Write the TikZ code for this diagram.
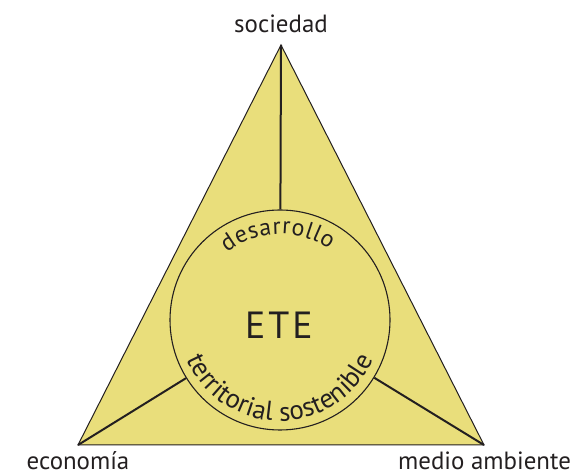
\documentclass[tikz,border=0pt]{standalone}
\usepackage{fontspec}
\setmainfont{PT Sans}
\usetikzlibrary{positioning, decorations.text}
\definecolor{triyellow}{RGB}{233,222,123}
\definecolor{inkdark}{RGB}{35,31,32}
\tikzset{
x=1bp, y=1bp, % one unit is one pixel of the picture
pole label/.style={font=\fontsize{25}{30}\selectfont, inner sep=0pt, text=inkdark}, % words at the three corners
rim/.style={draw=inkdark, circle, line width=1.1bp, minimum size=220bp, inner sep=0pt}, % the inner circle
spoke/.style={draw=inkdark, line width=2bp}, % lines from the corners to the circle
}

\begin{document}
\begin{tikzpicture}
                \useasboundingbox (0,0) rectangle (575,473);
                \coordinate (top) at (281,428);
                \coordinate (left) at (78,28);
                \coordinate (right) at (484,28);
                \filldraw[fill=triyellow, draw=inkdark, line width=1bp] (top) -- (left) -- (right) -- cycle;
                \node[rim] (ete) at (280,153) {};
                \node[font=\fontsize{38}{44}\selectfont, text=inkdark] (etetext) at (279,148) {E\kern3bp T\kern3bp E};
                \node[pole label, above=12bp of top] (soc) {sociedad};
                \node[pole label, anchor=base] (eco) at (78,3) {economía};
                \node[pole label, anchor=base] (med) at (484.5,3) {medio ambiente};
                \draw[spoke] (top) -- (ete);
                \draw[spoke] (left) -- (ete);
                \draw[spoke] (right) -- (ete);
                \path[decorate, decoration={text along path, text align=fit to path,
                    text={|\fontsize{24}{28}\selectfont\color{inkdark}|desarrollo}}]
                    (ete.center) ++(128:86) arc[start angle=128, end angle=55, radius=86];
                \path[decorate, decoration={text along path, text align=fit to path,
                    text={|\fontsize{27}{32}\selectfont\color{inkdark}|territorial sostenible}}]
                    (ete.center) ++(203:101) arc[start angle=203, end angle=337, radius=101];
                \end{tikzpicture}
\end{document}
